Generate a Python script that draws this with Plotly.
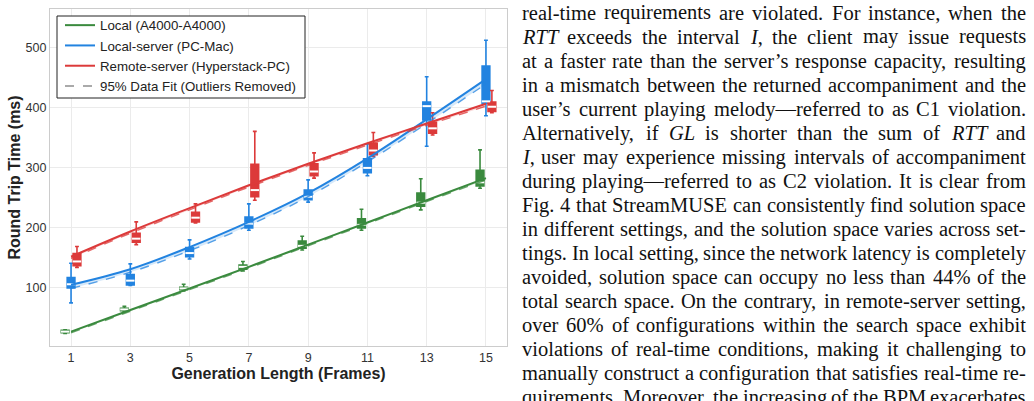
import plotly.graph_objects as go

# ---------------- data ----------------
GL = [1, 3, 5, 7, 9, 11, 13, 15]
SERIES = ["Local (A4000-A4000)", "Local-server (PC-Mac)", "Remote-server (Hyperstack-PC)"]
COLORS = ["#3a8a3e", "#2283e0", "#dc3a3a"]
RGB = ["58,138,62", "34,131,224", "220,58,58"]
OFFSETS = [-0.2, 0.0, 0.2]

# box statistics (ms)
local_q1 = [25, 62, 97, 131, 166, 200, 236, 270]
local_med = [27, 64, 99, 135, 170, 205, 242, 276]
local_q3 = [29, 66, 101, 138, 178, 215, 258, 296]
local_lo = [24, 60, 95, 128, 163, 196, 230, 266]
local_hi = [30, 69, 106, 144, 186, 231, 282, 330]

lserv_q1 = [100, 105, 152, 200, 247, 292, 380, 408]
lserv_med = [106, 112, 158, 207, 252, 300, 403, 411]
lserv_q3 = [117, 122, 167, 218, 263, 315, 410, 470]
lserv_lo = [75, 104, 148, 196, 243, 287, 336, 387]
lserv_hi = [141, 140, 180, 240, 280, 340, 452, 513]

rserv_q1 = [137, 176, 210, 252, 287, 322, 358, 394]
rserv_med = [144, 182, 217, 263, 294, 329, 366, 402]
rserv_q3 = [157, 191, 226, 306, 307, 341, 376, 410]
rserv_lo = [134, 172, 208, 246, 283, 319, 355, 392]
rserv_hi = [169, 210, 240, 361, 325, 359, 392, 429]

# fitted curves (all data / 95% data)
local_fit = [27, 63, 99, 135, 172, 209, 246, 283]
local_fit95 = [25, 61, 97, 133, 170, 207, 244, 280]
lserv_fit = [105, 131, 168, 210, 258, 316, 381, 448]
lserv_fit95 = [99, 126, 162, 204, 252, 310, 374, 440]
rserv_fit = [152, 194, 233, 271, 307, 341, 374, 407]
rserv_fit95 = [149, 191, 230, 268, 304, 338, 371, 403]

Y_TICKS = [100, 200, 300, 400, 500]

PARAGRAPH = [
    "real-time requirements are violated. For instance, when the",
    "<i>RTT</i> exceeds the interval <i>I</i>, the client may issue requests",
    "at a faster rate than the server\u2019s response capacity, resulting",
    "in a mismatch between the returned accompaniment and the",
    "user\u2019s current playing melody\u2014referred to as C1 violation.",
    "Alternatively, if <i>GL</i> is shorter than the sum of <i>RTT</i> and",
    "<i>I</i>, user may experience missing intervals of accompaniment",
    "during playing\u2014referred to as C2 violation. It is clear from",
    "Fig. 4 that StreamMUSE can consistently find solution space",
    "in different settings, and the solution space varies across set-",
    "tings. In local setting, since the network latency is completely",
    "avoided, solution space can occupy no less than 44% of the",
    "total search space. On the contrary, in remote-server setting,",
    "over 60% of configurations within the search space exhibit",
    "violations of real-time conditions, making it challenging to",
    "manually construct a configuration that satisfies real-time re-",
    "quirements. Moreover, the increasing of the BPM exacerbates",
]

BOX = [
    (local_q1, local_med, local_q3, local_lo, local_hi),
    (lserv_q1, lserv_med, lserv_q3, lserv_lo, lserv_hi),
    (rserv_q1, rserv_med, rserv_q3, rserv_lo, rserv_hi),
]
FITS = [(local_fit, local_fit95), (lserv_fit, lserv_fit95), (rserv_fit, rserv_fit95)]

# ---------------- layout geometry ----------------
W, H = 1034, 401
ML, MR, MT, MB = 50, 527, 9, 55
PW, PH = W - ML - MR, H - MT - MB


def px2paper(px, py):
    return (px - ML) / PW, 1 - (py - MT) / PH


fig = go.Figure()

# boxes
for i in range(3):
    q1, med, q3, lo, hi = BOX[i]
    xs = [g + OFFSETS[i] for g in GL]
    fig.add_trace(go.Box(
        x=xs, q1=q1, median=med, q3=q3, lowerfence=lo, upperfence=hi,
        width=0.26, whiskerwidth=0.5, boxpoints=False,
        fillcolor=COLORS[i], line=dict(color=COLORS[i], width=1.6),
        showlegend=False, hoverinfo="skip",
    ))
    fig.add_trace(go.Scatter(
        x=xs, y=med, mode="markers", showlegend=False, hoverinfo="skip",
        marker=dict(symbol="line-ew", size=6, line=dict(color="white", width=2)),
    ))

# fit lines
for i in range(3):
    fit, fit95 = FITS[i]
    fig.add_trace(go.Scatter(
        x=GL, y=fit95, mode="lines", showlegend=False, hoverinfo="skip",
        line=dict(color="rgba(%s,0.75)" % RGB[i], width=1.4, dash="dash", shape="spline"),
    ))
    fig.add_trace(go.Scatter(
        x=GL, y=fit, mode="lines", showlegend=False, hoverinfo="skip",
        fill="tonexty", fillcolor="rgba(%s,0.18)" % RGB[i],
        line=dict(color=COLORS[i], width=2, shape="spline"),
    ))

# legend entries
for i in range(3):
    fig.add_trace(go.Scatter(x=[None], y=[None], mode="lines", name=SERIES[i],
                             line=dict(color=COLORS[i], width=2)))
fig.add_trace(go.Scatter(x=[None], y=[None], mode="lines", name="95% Data Fit (Outliers Removed)",
                         line=dict(color="#aaaaaa", width=2, dash="dash")))

# ---------------- paragraph text (justified) ----------------
ROMAN = {' ': 250, ',': 250, '-': 333, '.': 250, '%': 833, '0': 500, '1': 500, '2': 500, '3': 500,
         '4': 500, '5': 500, '6': 500, '7': 500, '8': 500, '9': 500,
         'A': 722, 'B': 667, 'C': 667, 'D': 722, 'E': 611, 'F': 556, 'G': 722, 'H': 722, 'I': 333,
         'J': 389, 'K': 722, 'L': 611, 'M': 889, 'N': 722, 'O': 722, 'P': 556, 'Q': 722, 'R': 667,
         'S': 556, 'T': 611, 'U': 722, 'V': 722, 'W': 944, 'X': 722, 'Y': 722, 'Z': 611,
         'a': 444, 'b': 500, 'c': 444, 'd': 500, 'e': 444, 'f': 333, 'g': 500, 'h': 500, 'i': 278,
         'j': 278, 'k': 500, 'l': 278, 'm': 778, 'n': 500, 'o': 500, 'p': 500, 'q': 500, 'r': 333,
         's': 389, 't': 278, 'u': 500, 'v': 500, 'w': 722, 'x': 500, 'y': 500, 'z': 444,
         '\u2019': 333, '\u2014': 1000}
ITALIC = {'G': 722, 'I': 333, 'L': 556, 'R': 611, 'T': 556}

FS = 20.5
TX_L, TX_R = 522, 1026
LINE0, LEAD = 13, 24


def word_width(w):
    total, ital, k = 0, False, 0
    while k < len(w):
        if w.startswith("<i>", k):
            ital, k = True, k + 3
            continue
        if w.startswith("</i>", k):
            ital, k = False, k + 4
            continue
        ch = w[k]
        total += (ITALIC.get(ch, 500) if ital else ROMAN.get(ch, 500))
        k += 1
    return total / 1000.0 * FS


for li, line in enumerate(PARAGRAPH):
    words = line.split(" ")
    widths = [word_width(w) for w in words]
    gap = (TX_R - TX_L - sum(widths)) / (len(words) - 1)
    xpos = TX_L
    ypix = LINE0 + LEAD * li
    for w, wd in zip(words, widths):
        xp, yp = px2paper(xpos, ypix)
        fig.add_annotation(x=xp, y=yp, xref="paper", yref="paper", text=w, showarrow=False,
                           xanchor="left", yanchor="middle", borderpad=0, borderwidth=0,
                           font=dict(family="Liberation Serif", size=FS, color="#111111"))
        xpos += wd + gap

# legend frame (drawn as a shape so its padding matches the reference)
bx0, by0 = px2paper(57, 16)
bx1, by1 = px2paper(305, 98)
fig.add_shape(type="rect", xref="paper", yref="paper", x0=bx0, y0=by1, x1=bx1, y1=by0,
              line=dict(color="#222222", width=1), fillcolor="white", layer="above")

lx, ly = px2paper(60, 10)
fig.update_layout(
    width=W, height=H,
    margin=dict(l=ML, r=MR, t=MT, b=MB, autoexpand=False),
    paper_bgcolor="white", plot_bgcolor="white",
    boxmode="overlay",
    font=dict(family="Liberation Sans, Arial", color="#333333"),
    legend=dict(x=lx, y=ly, xanchor="left", yanchor="top", bgcolor="rgba(0,0,0,0)",
                borderwidth=0, font=dict(size=13.3, color="#222222"),
                itemwidth=30, tracegroupgap=0, traceorder="normal"),
    xaxis=dict(range=[0.29, 15.71], tickmode="array", tickvals=GL, ticktext=[str(g) for g in GL],
               showgrid=True, gridcolor="#ebebeb", gridwidth=1, zeroline=False,
               showline=True, linecolor="#cccccc", linewidth=1.2, mirror=True,
               ticks="", tickfont=dict(size=12.5, color="#333333"),
               title=dict(text="<b>Generation Length (Frames)</b>", standoff=0,
                          font=dict(size=16, color="#222222")), automargin=False),
    yaxis=dict(range=[3, 565], tickmode="array", tickvals=Y_TICKS,
               showgrid=True, gridcolor="#ebebeb", gridwidth=1, zeroline=False,
               showline=True, linecolor="#cccccc", linewidth=1.2, mirror=True,
               ticks="", tickfont=dict(size=12.5, color="#333333"),
               title=dict(text="<b>Round Trip Time (ms)</b>", standoff=0,
                          font=dict(size=16, color="#222222")), automargin=False),
)

fig.write_html("out.html")
